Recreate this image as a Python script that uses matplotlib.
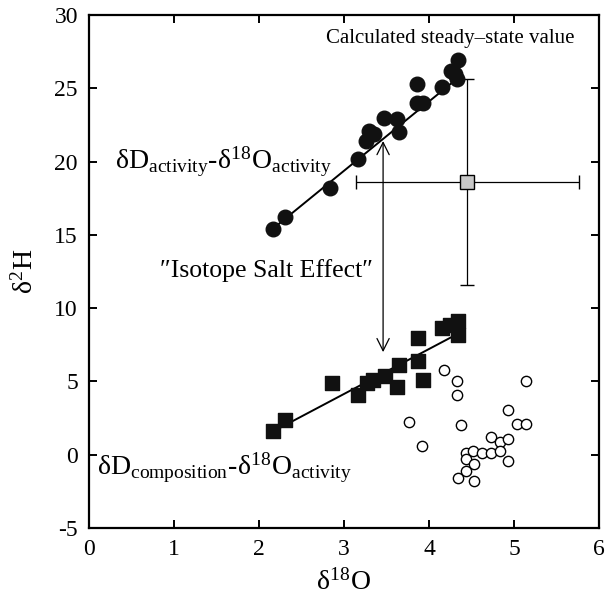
import matplotlib
matplotlib.use("Agg")
import matplotlib.pyplot as plt

plt.rcParams['font.family'] = ['Liberation Serif', 'DejaVu Serif']
plt.rcParams['mathtext.fontset'] = 'stix'
plt.rcParams['axes.unicode_minus'] = False

# dD activity vs d18O activity (filled circles)
act_x = [2.16, 2.30, 2.84, 3.16, 3.26, 3.29, 3.35, 3.47, 3.62, 3.65, 3.86, 3.86,
         3.93, 4.15, 4.26, 4.31, 4.33, 4.34]
act_y = [15.4, 16.2, 18.2, 20.2, 21.4, 22.1, 21.9, 23.0, 22.9, 22.0, 25.3, 24.0,
         24.0, 25.1, 26.2, 26.0, 25.6, 26.9]
act_fit_x = [2.16, 4.36]
act_fit_y = [15.4, 25.8]

# dD composition vs d18O activity (filled squares)
comp_x = [2.17, 2.31, 2.86, 3.17, 3.27, 3.34, 3.48, 3.62, 3.65, 3.87, 3.87, 3.93,
          4.15, 4.25, 4.34, 4.34]
comp_y = [1.6, 2.4, 4.9, 4.05, 4.9, 5.1, 5.4, 4.65, 6.15, 7.95, 6.4, 5.1,
          8.65, 8.85, 9.1, 8.2]
comp_fit_x = [2.17, 4.29]
comp_fit_y = [1.6, 8.1]

# open circles
open_x = [4.18, 4.33, 4.33, 4.38, 3.76, 3.92, 5.14, 4.93, 5.03, 5.14, 4.73, 4.84,
          4.93, 4.44, 4.52, 4.62, 4.73, 4.84, 4.44, 4.53, 4.93, 4.44, 4.34, 4.53]
open_y = [5.75, 5.05, 4.1, 2.0, 2.25, 0.6, 5.05, 3.05, 2.1, 2.1, 1.2, 0.9,
          1.05, 0.15, 0.25, 0.15, 0.15, 0.25, -0.3, -0.65, -0.4, -1.1, -1.6, -1.8]

# calculated steady-state value
ss_x = 4.45
ss_y = 18.6
ss_xerr = 1.31
ss_yerr = 7.0

# "Isotope Salt Effect" arrow
arrow_x = 3.46
arrow_top = 21.4
arrow_bottom = 7.0

fig = plt.figure(figsize=(6.14, 6.0), dpi=100)
ax = fig.add_axes([0.145, 0.12, 0.8305, 0.855])

ax.errorbar(ss_x, ss_y, xerr=ss_xerr, yerr=ss_yerr, fmt='s', color='black',
            mfc='#c8c8c8', mec='black', ms=10, mew=1, elinewidth=0.9,
            capsize=5, capthick=0.9, zorder=2)

ax.plot(act_fit_x, act_fit_y, color='black', lw=1.4, zorder=3)
ax.plot(comp_fit_x, comp_fit_y, color='black', lw=1.4, zorder=3)
ax.scatter(act_x, act_y, s=110, color='#111111', marker='o', zorder=4)
ax.scatter(comp_x, comp_y, s=110, color='#111111', marker='s', zorder=4)
ax.scatter(open_x, open_y, s=55, facecolor='white', edgecolor='black',
           linewidth=1, zorder=4)

ax.annotate('', xy=(arrow_x, arrow_bottom), xytext=(arrow_x, arrow_top),
            arrowprops=dict(arrowstyle='<->', color='black', lw=0.9,
                            mutation_scale=22, shrinkA=0, shrinkB=0),
            zorder=1)

ax.text(4.25, 28.4, 'Calculated steady\u2013state value', fontsize=15,
        ha='center', va='center')
ax.text(0.31, 20.0, r'δD$_\mathregular{activity}$-δ$^\mathregular{18}$O$_\mathregular{activity}$',
        fontsize=20, ha='left', va='center')
ax.text(0.84, 12.6, '\u2033Isotope Salt Effect\u2033', fontsize=18.5,
        ha='left', va='center')
ax.text(0.09, -0.9, r'δD$_\mathregular{composition}$-δ$^\mathregular{18}$O$_\mathregular{activity}$',
        fontsize=20, ha='left', va='center')

ax.set_xlim(0, 6)
ax.set_ylim(-5, 30)
ax.set_xticks(range(0, 7))
ax.set_yticks(range(-5, 31, 5))
ax.tick_params(direction='in', length=6, width=1.4, top=True, right=True,
               labelsize=17, pad=8)
for s in ax.spines.values():
    s.set_linewidth(1.6)

ax.set_xlabel(r'δ$^\mathregular{18}$O', fontsize=20, labelpad=6)
ax.set_ylabel(r'δ$^\mathregular{2}$H', fontsize=20, labelpad=11)

fig.savefig('out.png', dpi=100)
